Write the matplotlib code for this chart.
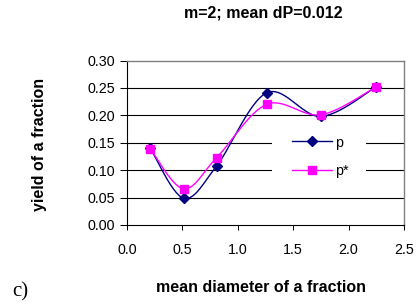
import numpy as np
import matplotlib
matplotlib.use("Agg")
import matplotlib.pyplot as plt
from matplotlib.lines import Line2D
from matplotlib.patches import Rectangle

x = [0.21, 0.51, 0.81, 1.26, 1.75, 2.25]
p = [0.140, 0.049, 0.108, 0.241, 0.198, 0.252]
p_star = [0.139, 0.066, 0.123, 0.220, 0.201, 0.252]
xticks = [0.0, 0.5, 1.0, 1.5, 2.0, 2.5]
yticks = [0.00, 0.05, 0.10, 0.15, 0.20, 0.25, 0.30]


def smooth(xs, ys, n=30):
    xs = np.asarray(xs, float); ys = np.asarray(ys, float)
    P = np.column_stack([xs, ys])
    out = []
    for i in range(len(P) - 1):
        p0 = P[i - 1] if i > 0 else P[i]
        p1 = P[i]; p2 = P[i + 1]
        p3 = P[i + 2] if i + 2 < len(P) else P[i + 1]
        c1 = p1 + (p2 - p0) / 6.0
        c2 = p2 - (p3 - p1) / 6.0
        t = np.linspace(0, 1, n)[:, None]
        seg = (1 - t) ** 3 * p1 + 3 * (1 - t) ** 2 * t * c1 + 3 * (1 - t) * t ** 2 * c2 + t ** 3 * p2
        out.append(seg if i == 0 else seg[1:])
    s = np.vstack(out)
    return s[:, 0], s[:, 1]


NAVY = '#000080'
MAG = '#FF00FF'
TICK_FS = 10.3
LAB_FS = 11.5

plt.rcParams['font.family'] = ['Liberation Sans', 'DejaVu Sans']
fig = plt.figure(figsize=(4.16, 3.04), dpi=100)
ax = fig.add_axes([127 / 416, 1 - 225 / 304, (404 - 127) / 416, (225 - 60.5) / 304])

for yv in yticks[1:-1]:
    ax.axhline(yv, color='black', lw=0.8, zorder=1)

# white gap in the gridlines behind the legend
ax.add_patch(Rectangle((0.523, 0.236), 0.340, 0.37, transform=ax.transAxes,
                       facecolor='white', edgecolor='none', zorder=2))

sx, sy = smooth(x, p)
ax.plot(sx, sy, color=NAVY, lw=1.0, zorder=3)
ax.plot(x, p, ls='none', marker='D', ms=4.8, color=NAVY, zorder=4)
sx, sy = smooth(x, p_star)
ax.plot(sx, sy, color=MAG, lw=1.0, zorder=3)
ax.plot(x, p_star, ls='none', marker='s', ms=6.3, color=MAG, zorder=4)

ax.set_xlim(0, 2.5)
ax.set_ylim(0, 0.30)
ax.set_xticks(xticks)
ax.set_xticklabels([f"{v:.1f}" for v in xticks])
ax.set_yticks(yticks)
ax.set_yticklabels([f"{v:.2f}" for v in yticks])
ax.tick_params(axis='both', labelsize=TICK_FS, direction='out', width=0.75, color='black')
ax.tick_params(axis='x', length=3.6, pad=9.5)
ax.tick_params(axis='y', length=5, pad=3.5)
for s in ['top', 'right']:
    ax.spines[s].set_color('#808080')
    ax.spines[s].set_linewidth(1.0)
for s in ['left', 'bottom']:
    ax.spines[s].set_color('black')
    ax.spines[s].set_linewidth(0.8)

handles = [Line2D([], [], color=NAVY, marker='D', ms=4.8, lw=1.0),
           Line2D([], [], color=MAG, marker='s', ms=6.3, lw=1.0)]
leg = ax.legend(handles, ['p', 'p*'], loc='upper left',
                bbox_to_anchor=((292 - 127) / 277, (225 - 135.5) / 164.5),
                frameon=False, fontsize=TICK_FS, handlelength=2.8, handletextpad=0.2,
                labelspacing=1.0, borderpad=0, borderaxespad=0)
leg.set_zorder(5)

fig.text(263.5 / 416, 1 - 12.5 / 304, 'm=2; mean dP=0.012', ha='center', va='center',
         fontsize=LAB_FS, fontweight='bold')
fig.text(261.5 / 416, 1 - 288 / 304, 'mean diameter of a fraction', ha='center', va='center',
         fontsize=LAB_FS, fontweight='bold')
fig.text(40 / 416, 1 - 144 / 304, 'yield of a fraction', ha='center', va='center',
         rotation=90, fontsize=LAB_FS, fontweight='bold')
fig.text(20 / 416, 1 - 292 / 304, 'c)', ha='center', va='center',
         fontsize=15, family=['Liberation Serif', 'DejaVu Serif'])

fig.savefig('out.png', dpi=100)
